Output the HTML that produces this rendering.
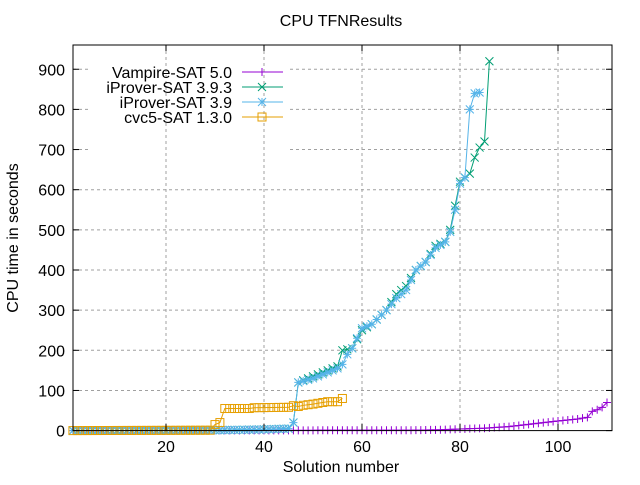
<!DOCTYPE html>
<html><head><meta charset="utf-8"><style>
body{margin:0;background:#fff;width:640px;height:480px;overflow:hidden}
svg text{font-family:"Liberation Sans",sans-serif;font-size:16px;fill:#000}
</style></head><body>
<svg id="s" width="640" height="480" xmlns="http://www.w3.org/2000/svg">
<rect width="640" height="480" fill="#fff"/>
<g id="grid" stroke="#a0a0a0" stroke-width="1" stroke-dasharray="3,3"></g>
<g id="series"></g>
<rect x="73" y="45" width="539" height="385.6" fill="none" stroke="#000" stroke-width="1"/>
<g id="ticks" stroke="#000"></g>
<g id="labels"></g>
<text x="341" y="26" text-anchor="middle">CPU TFNResults</text>
<text x="341" y="472" text-anchor="middle">Solution number</text>
<text transform="translate(18,238) rotate(-90)" text-anchor="middle">CPU time in seconds</text>
<g id="legend"></g>
</svg>
<script>
const NS="http://www.w3.org/2000/svg";
const X=x=>72.9+(x-1)*4.9, Y=y=>430.6-y*0.4015;
function el(p,t,a,txt){const e=document.createElementNS(NS,t);for(const k in a)e.setAttribute(k,a[k]);if(txt!==undefined)e.textContent=txt;document.getElementById(p)?document.getElementById(p).appendChild(e):p.appendChild(e);return e;}
// grid & ticks
for(let v=20;v<=100;v+=20){el("grid","line",{x1:X(v),x2:X(v),y1:45,y2:430.6});
 el("ticks","line",{x1:X(v),x2:X(v),y1:430.6,y2:424});el("ticks","line",{x1:X(v),x2:X(v),y1:45,y2:51});
 el("labels","text",{x:X(v),y:452,"text-anchor":"middle"},String(v));}
for(let v=0;v<=900;v+=100){ if(v>0){ if(v>=700) el("grid","line",{x1:73,x2:90,y1:Y(v),y2:Y(v)}), el("grid","line",{x1:290,x2:612,y1:Y(v),y2:Y(v)}); else el("grid","line",{x1:73,x2:612,y1:Y(v),y2:Y(v)});}
 el("ticks","line",{x1:73,x2:79,y1:Y(v),y2:Y(v)});el("ticks","line",{x1:612,x2:606,y1:Y(v),y2:Y(v)});
 el("labels","text",{x:65,y:Y(v)+6,"text-anchor":"end"},String(v));}
function interp(keys,n){const out=[];for(let x=1;x<=n;x++){let k=0;while(k<keys.length-1&&keys[k+1][0]<x)k++;const a=keys[k],b=keys[Math.min(k+1,keys.length-1)];let y=a[1];if(b[0]!==a[0])y=a[1]+(b[1]-a[1])*(x-a[0])/(b[0]-a[0]);if(x<=a[0])y=a[1];out.push([x,y]);}return out;}
function marker(g,t,x,y,c){const s=4;
 if(t==="+"){el(g,"path",{d:`M${x-s} ${y}h${2*s}M${x} ${y-s}v${2*s}`,stroke:c,fill:"none"});}
 else if(t==="x"){el(g,"path",{d:`M${x-s} ${y-s}l${2*s} ${2*s}M${x-s} ${y+s}l${2*s} ${-2*s}`,stroke:c,fill:"none"});}
 else if(t==="*"){el(g,"path",{d:`M${x-s} ${y}h${2*s}M${x} ${y-s}v${2*s}M${x-s} ${y-s}l${2*s} ${2*s}M${x-s} ${y+s}l${2*s} ${-2*s}`,stroke:c,fill:"none"});}
 else {el(g,"rect",{x:x-4,y:y-4,width:8,height:8,stroke:c,fill:"none"});}}
function series(pts,c,t){const g=el("series","g",{});el(g,"polyline",{points:pts.map(p=>X(p[0])+","+Y(p[1])).join(" "),fill:"none",stroke:c,"stroke-width":1});pts.forEach(p=>marker(g,t,X(p[0]),Y(p[1]),c));}
const vamp=interp([[1,0],[70,1],[76,2],[80,4],[85,6],[90,10],[95,17],[100,24],[104,29],[106,33],[107,48],[108,52],[109,58],[110,70]],110);
const ip393=interp([[1,0],[30,1],[40,3],[45,5],[46,20],[47,120],[50,135],[55,160],[56,200],[58,205],[60,250],[62,265],[65,300],[67,340],[69,360],[71,400],[73,420],[75,460],[77,470],[78,500],[79,560],[80,620],[81,630],[82,640],[83,680],[84,705],[85,720],[86,920]],86);
const ip39=interp([[1,0],[30,1],[40,3],[45,5],[46,20],[47,120],[50,130],[55,155],[56,165],[57,190],[58,205],[60,255],[62,265],[65,300],[67,330],[69,350],[71,400],[73,420],[75,455],[77,470],[78,495],[79,550],[80,615],[81,630],[82,800],[83,840],[84,842]],84);
const cvc=interp([[1,0],[29,1],[30,15],[31,20],[32,55],[37,55],[38,57],[45,58],[46,62],[47,60],[48,63],[50,66],[51,68],[53,72],[55,72],[56,80]],56);
series(vamp,"#9400d3","+");series(ip393,"#009e73","x");series(ip39,"#56b4e9","*");series(cvc,"#e69f00","s");
const L=[["Vampire-SAT 5.0","#9400d3","+"],["iProver-SAT 3.9.3","#009e73","x"],["iProver-SAT 3.9","#56b4e9","*"],["cvc5-SAT 1.3.0","#e69f00","s"]];
L.forEach((l,i)=>{const y=72+i*15;el("legend","text",{x:232,y:y+6,"text-anchor":"end"},l[0]);el("legend","line",{x1:242,x2:283,y1:y,y2:y,stroke:l[1]});marker(document.getElementById("legend"),l[2],262,y,l[1]);});
</script>
</body></html>
